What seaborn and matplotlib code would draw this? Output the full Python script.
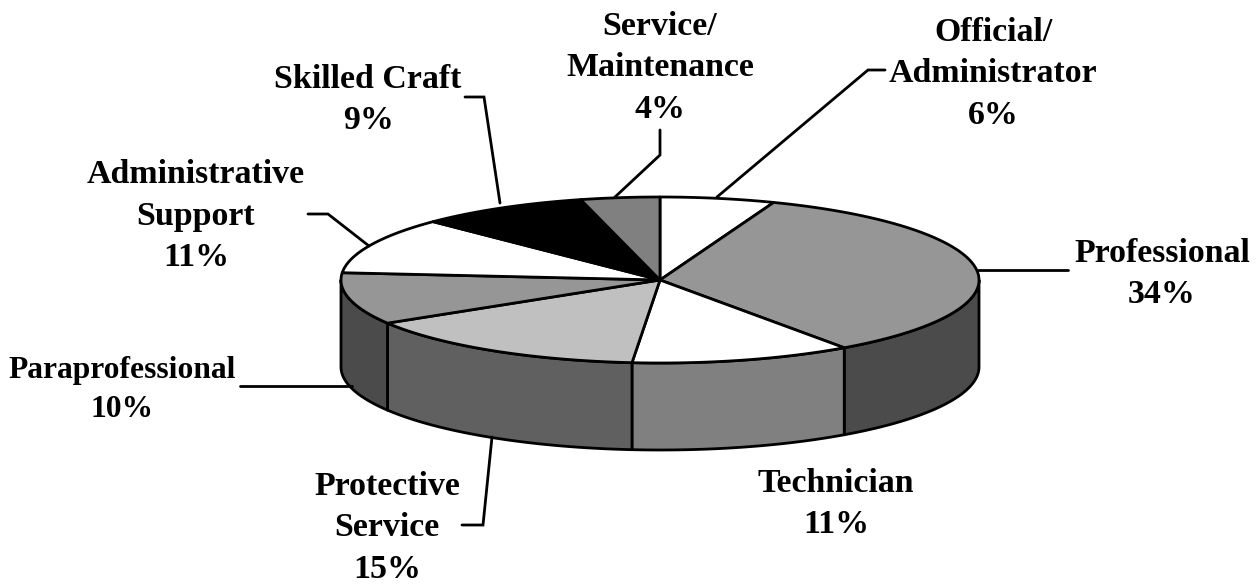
import numpy as np
import matplotlib
matplotlib.use("Agg")
import matplotlib.pyplot as plt
import seaborn as sns

labels = ["Official/\nAdministrator", "Professional", "Technician", "Protective\nService",
          "Paraprofessional", "Administrative\nSupport", "Skilled Craft", "Service/\nMaintenance"]
shares = [5.8, 34.4, 11.2, 14.9, 10.1, 11.0, 8.6, 4.0]
top_colors = ["#ffffff", "#969696", "#ffffff", "#c0c0c0", "#969696", "#ffffff", "#000000", "#808080"]
side_colors = ["#808080", "#4b4b4b", "#808080", "#606060", "#4b4b4b", "#808080", "#000000", "#606060"]
label_pos = [(993, 74), (1162, 274), (836, 504), (387, 528), (122, 390), (196, 216), (368, 100), (660, 68)]
label_size = [24.4, 24.4, 24.4, 24.4, 22.7, 24.4, 24.4, 24.4]
leaders = [[(717, 197), (868, 70), (885, 70)],
           [(978, 270), (1068, 270)],
           None,
           [(492, 437), (483, 525), (462, 525)],
           [(352, 386), (240, 386)],
           [(369, 246), (328, 214), (308, 214)],
           [(500, 203), (484, 97), (465, 97)],
           [(615, 197), (660, 155), (660, 130)]]

sns.set_theme(style="white")
plt.rcParams["font.family"] = ["Liberation Serif", "DejaVu Serif"]

cx, cy, rx, ry, depth = 660, 280, 319, 83, 87
fig = plt.figure(figsize=(12.6, 5.84), dpi=100)
ax = fig.add_axes([0, 0, 1, 1])
ax.set_xlim(0, 1260)
ax.set_ylim(584, 0)
ax.axis("off")

def rim(a0, a1):
    t = np.radians(np.linspace(a0, a1, max(int(abs(a1 - a0) * 2), 2)))
    return cx + rx * np.sin(t), cy - ry * np.cos(t)

edges = np.concatenate([[0], np.cumsum(shares)]) * 360 / sum(shares)

# visible side wall: front half of the ellipse, 90..270 degrees
for i in range(len(shares)):
    a0, a1 = max(edges[i], 90), min(edges[i + 1], 270)
    if a1 > a0:
        x, y = rim(a0, a1)
        ax.fill(np.r_[x, x[::-1]], np.r_[y, y[::-1] + depth], fc=side_colors[i], ec="black", lw=2, joinstyle="round", zorder=1)

for i in range(len(shares)):
    x, y = rim(edges[i], edges[i + 1])
    ax.fill(np.r_[cx, x], np.r_[cy, y], fc=top_colors[i], ec="black", lw=2, joinstyle="round", zorder=2)

for lab, share, pos, size, lead in zip(labels, shares, label_pos, label_size, leaders):
    ax.text(pos[0], pos[1], f"{lab}\n{share:.0f}%", ha="center", va="center", ma="center",
            fontsize=size, fontweight="bold", color="black", linespacing=1.42, zorder=4)
    if lead:
        ax.plot(*zip(*lead), color="black", lw=2, zorder=3, solid_joinstyle="miter")

fig.savefig("out.png", dpi=100, facecolor="white")
